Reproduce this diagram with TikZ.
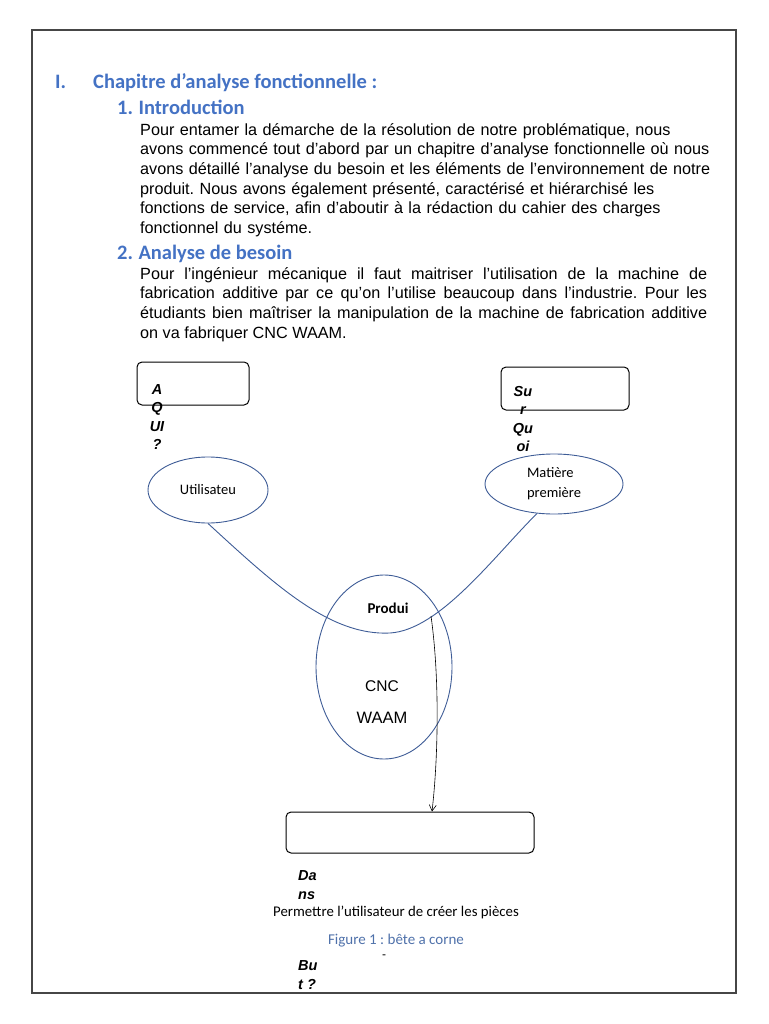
\documentclass[tikz,border=0pt]{standalone}
\usepackage{fontspec}
\setmainfont{Liberation Sans}
\newfontfamily\calibri{Carlito}
\usetikzlibrary{shapes.geometric,positioning,arrows.meta}
\definecolor{headblue}{RGB}{68,114,196}
\definecolor{capblue}{RGB}{79,113,170}
\definecolor{shapeblue}{RGB}{62,92,150}
\definecolor{framegray}{RGB}{70,70,70}
\frenchspacing

\begin{document}
\begin{tikzpicture}[x=1pt, y=-1pt,
  heading/.style={anchor=base west, inner sep=0pt, font=\calibri\bfseries\fontsize{20.5}{24}\selectfont, text=headblue},
  body/.style={anchor=north west, inner sep=0pt, text width=620pt, align=left, font=\fontsize{16.2}{19.7}\selectfont},
  bubble/.style={ellipse, draw=shapeblue, line width=0.9pt, inner sep=0pt, align=left, font=\calibri\fontsize{14.5}{20}\selectfont},
  qbox/.style={rectangle, draw, rounded corners=5pt, line width=1pt, inner sep=0pt},
  question/.style={inner sep=0pt, font=\bfseries\itshape\fontsize{14.5}{18.3}\selectfont},
  link/.style={draw=shapeblue, line width=0.9pt},
  arrow/.style={-{Straight Barb[length=6pt,width=7pt]}, line width=0.6pt},
]
\useasboundingbox (0,0) rectangle (768,1024);

% === Page frame ===
\draw[framegray, line width=1.3pt] (32,30) rectangle (736,993);

% === Headings and text ===
\node[heading] (hnum) at (55,88.5) {I.};
\node[heading] (htitle) at (93,88.5) {Chapitre d’analyse fonctionnelle :};
\node[heading] (hintro) at (117,114.5) {1.\hspace{5.5pt}Introduction};
\node[body] (intro) at (140,123) {Pour entamer la démarche de la résolution de notre problématique, nous\\
avons commencé tout d’abord par un chapitre d’analyse fonctionnelle où nous\\
avons détaillé l’analyse du besoin et les éléments de l’environnement de notre\\
produit. Nous avons également présenté, caractérisé et hiérarchisé les\\
fonctions de service, afin d’aboutir à la rédaction du cahier des charges\\
fonctionnel du systéme.};
\node[heading] (hbesoin) at (117,259.5) {2.\hspace{5.5pt}Analyse de besoin};
\node[body, text width=567pt, align=justify] (besoin) at (140,267) {Pour l’ingénieur mécanique il faut maitriser l’utilisation de la machine de\linebreak
fabrication additive par ce qu’on l’utilise beaucoup dans l’industrie. Pour les\linebreak
étudiants bien maîtriser la manipulation de la machine de fabrication additive\linebreak
on va fabriquer CNC WAAM.};

% === Bete a corne ===
\node[qbox, minimum width=112pt, minimum height=43pt] (qui) at (193,383.5) {};
\node[qbox, minimum width=128pt, minimum height=43pt] (quoi) at (565,388.5) {};
\node[question, align=center] (quitxt) at (157,417) {A\\Q\\UI\\?};
\node[question, align=center] (quoitxt) at (523,419) {Su\\r\\Qu\\oi};

\node[bubble, minimum width=120pt, minimum height=66pt] (util) at (208,490) {Utilisateu};
\node[bubble, minimum width=138pt, minimum height=60pt] (mat) at (554,484) {Matière\\première};
\node[bubble, minimum width=136pt, minimum height=184pt] (cnc) at (384,667) {};
\node[font=\calibri\bfseries\fontsize{15}{16}\selectfont, inner sep=0pt] (produi) at (388,608) {Produi};
\node[font=\fontsize{15.5}{16}\selectfont, inner sep=0pt] (cnctxt) at (382,686) {CNC};
\node[font=\fontsize{16.5}{18}\selectfont, inner sep=0pt] (waam) at (382,718) {WAAM};

\coordinate (dip) at (390,633);
\draw[link] (util.south) .. controls (275,585) and (330,636) .. (dip)
  .. controls (440,630) and (495,555) .. (mat.240);

\node[qbox, minimum width=248pt, minimum height=41pt] (dans) at (410,832.5) {};
\coordinate (arrstart) at (431,616);
\draw[arrow] (arrstart) .. controls (440,680) and (438,760) .. ([xshift=22pt]dans.north);

\node[question, anchor=west, align=left] (danstxt) at (298,885) {Da\\ns};
\node[font=\calibri\fontsize{14.8}{16}\selectfont, inner sep=0pt] (but) at (396,912) {Permettre l’utilisateur de créer les pièces};
\node[font=\calibri\fontsize{15}{17}\selectfont, text=capblue, inner sep=0pt] (caption) at (396,941) {Figure 1 : bête a corne};
\node[font=\fontsize{12}{12}\selectfont, inner sep=0pt] (mark) at (384,957) {-};
\node[question, anchor=west, align=left] (buttxt) at (298,975) {Bu\\t ?};

\end{tikzpicture}
\end{document}
